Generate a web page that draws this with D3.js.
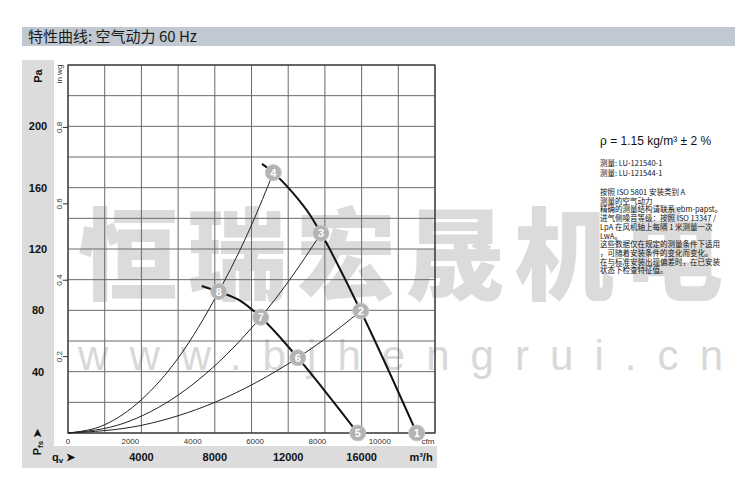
<!DOCTYPE html>
<html><head><meta charset="utf-8">
<script src="https://cdn.jsdelivr.net/npm/d3@7/dist/d3.min.js"></script>
<style>
html,body{margin:0;padding:0;background:#fff;}
svg{display:block;font-family:"Liberation Sans",Arial,"Noto Sans CJK SC",sans-serif;}
</style></head>
<body>
<svg id="c" width="750" height="492"></svg>
<script>
// ---------- data ----------
const title = "特性曲线: 空气动力 60 Hz";
const paTicks = [40, 80, 120, 160, 200];
const inwgTicks = [0.2, 0.4, 0.6, 0.8];
const cfmTicks = [0, 2000, 4000, 6000, 8000, 10000];
const m3hTicks = [4000, 8000, 12000, 16000];

// fan curve, high speed (m³/h, Pa)
const highFlow = [10573, 11189, 12279, 13189, 13789, 15952, 19004];
const highPa   = [175.5, 169.8, 156.3, 142.2, 130.2, 79.6, 0];
// fan curve, low speed
const lowFlow = [7286, 8213, 9374, 10502, 12519, 14099, 15789];
const lowPa   = [95.9, 92.2, 86.3, 75.5, 49.1, 25.9, 0];
// system curves
const sysAFlow = [0, 2000, 4000, 6000, 8213, 10000, 11189];
const sysAPa   = [0, 5.4, 21.7, 48.8, 92.2, 135.6, 169.8];
const sysBFlow = [0, 3000, 6000, 9000, 10502, 12000, 13789];
const sysBPa   = [0, 6.2, 24.7, 55.5, 75.5, 98.6, 130.2];
const sysCFlow = [0, 4000, 8000, 12519, 14000, 15952];
const sysCPa   = [0, 5.0, 20.0, 49.1, 61.3, 79.6];
// operating points
const markerIds  = ["1", "2", "3", "4", "5", "6", "7", "8"];
const markerFlow = [19004, 15952, 13789, 11189, 15789, 12519, 10502, 8213];
const markerPa   = [0, 79.6, 130.2, 169.8, 0, 49.1, 75.5, 92.2];

const noteRho = "ρ = 1.15 kg/m³ ± 2 %";
const noteMeas = ["测量: LU-121540-1", "测量: LU-121544-1"];
const noteLines = [
  "按照 ISO 5801 安装类别 A",
  "测量的空气动力",
  "精确的测量结构请联系 ebm-papst。",
  "进气侧噪音等级：按照 ISO 13347 /",
  "LpA 在风机轴上每隔 1 米测量一次",
  "LwA。",
  "这些数据仅在规定的测量条件下适用",
  "，可随着安装条件的变化而变化。",
  "在与标准安装出现偏差时，在已安装",
  "状态下检查特征值。"
];
const watermark = "恒瑞宏晟机电";
const watermarkUrl = "www.bjhengrui.cn";

// ---------- drawing ----------
const svg = d3.select("#c");
const L = 68, R = 435, T = 65, B = 433;
const x = d3.scaleLinear().domain([0, 20000]).range([L, R]);
const y = d3.scaleLinear().domain([0, 240]).range([B, T]);
const xc = d3.scaleLinear().domain([0, 20000 / 1.699]).range([L, R]);
const yw = d3.scaleLinear().domain([0, 240 / 249.09]).range([B, T]);

// header band
svg.append("rect").attr("x", 22).attr("y", 27).attr("width", 713).attr("height", 19).attr("fill", "#c0c9d2");
svg.append("text").attr("x", 28).attr("y", 42).attr("font-size", 15)
  .attr("font-family", "'Noto Sans CJK SC',sans-serif").attr("fill", "#1a1a1a").text(title);

// side/bottom bands
svg.append("rect").attr("x", 22).attr("y", 60).attr("width", 32).attr("height", 408).attr("fill", "#dcdcdc");
svg.append("rect").attr("x", 22).attr("y", 446).attr("width", 415).attr("height", 22).attr("fill", "#dcdcdc");

// watermark (behind chart)
svg.append("text").attr("x", 78).attr("y", 292).attr("font-size", 100).attr("font-weight", "900")
  .attr("font-family", "'Noto Sans CJK SC',sans-serif").attr("fill", "#808080").attr("opacity", 0.28)
  .attr("textLength", 645).attr("lengthAdjust", "spacing").text(watermark);
svg.append("text").attr("x", 78).attr("y", 370).attr("font-size", 42)
  .attr("fill", "#808080").attr("opacity", 0.3)
  .attr("textLength", 645).attr("lengthAdjust", "spacing").text(watermarkUrl);

// grid
const g = svg.append("g");
g.selectAll(".vg").data(d3.range(0, 20001, 2000)).join("line")
  .attr("x1", d => x(d)).attr("x2", d => x(d)).attr("y1", T).attr("y2", B)
  .attr("stroke", "#6a6a6a").attr("stroke-width", 1);
g.selectAll(".hg").data(d3.range(0, 241, 20)).join("line")
  .attr("x1", L).attr("x2", R).attr("y1", d => y(d)).attr("y2", d => y(d))
  .attr("stroke", "#6a6a6a").attr("stroke-width", 1);
g.append("rect").attr("x", L).attr("y", T).attr("width", R - L).attr("height", B - T)
  .attr("fill", "none").attr("stroke", "#333").attr("stroke-width", 1.2);

// Pa labels
svg.selectAll(".pa").data(paTicks).join("text")
  .attr("x", 38).attr("y", d => y(d) + 4).attr("text-anchor", "middle")
  .attr("font-size", 11).attr("font-weight", "bold").attr("fill", "#111").text(d => d);
svg.append("text").attr("transform", "translate(42,76) rotate(-90)").attr("text-anchor", "middle")
  .attr("font-size", 11).attr("font-weight", "bold").attr("fill", "#111").text("Pa");

// in wg axis
svg.selectAll(".wt").data(inwgTicks).join("line")
  .attr("x1", 63).attr("x2", L).attr("y1", d => yw(d)).attr("y2", d => yw(d))
  .attr("stroke", "#333");
svg.selectAll(".wl").data(inwgTicks).join("text")
  .attr("transform", d => `translate(62,${yw(d)}) rotate(-90)`).attr("text-anchor", "middle")
  .attr("font-size", 8).attr("fill", "#333").text(d => d.toFixed(1));
svg.append("text").attr("transform", "translate(62,74) rotate(-90)").attr("text-anchor", "middle")
  .attr("font-size", 8).attr("fill", "#333").text("in wg");

// Pfs label
const pfs = svg.append("text").attr("transform", "translate(41,442) rotate(-90)").attr("text-anchor", "middle")
  .attr("font-size", 11).attr("font-weight", "bold").attr("fill", "#111");
pfs.append("tspan").text("P");
pfs.append("tspan").attr("font-size", 8).attr("dy", 2).text("fs");
pfs.append("tspan").attr("dy", -2).text(" ➤");

// cfm axis
svg.selectAll(".ct").data(cfmTicks).join("text")
  .attr("x", d => xc(d)).attr("y", 444).attr("text-anchor", "middle")
  .attr("font-size", 8).attr("fill", "#333").text(d => d);
svg.append("text").attr("x", 428).attr("y", 444).attr("text-anchor", "middle")
  .attr("font-size", 8).attr("fill", "#333").text("cfm");

// m3/h axis
svg.selectAll(".mt").data(m3hTicks).join("text")
  .attr("x", d => x(d)).attr("y", 461).attr("text-anchor", "middle")
  .attr("font-size", 11).attr("font-weight", "bold").attr("fill", "#111").text(d => d);
svg.append("text").attr("x", 421).attr("y", 461).attr("text-anchor", "middle")
  .attr("font-size", 11).attr("font-weight", "bold").attr("fill", "#111").text("m³/h");
const qv = svg.append("text").attr("x", 52).attr("y", 461)
  .attr("font-size", 11).attr("font-weight", "bold").attr("fill", "#111");
qv.append("tspan").text("q");
qv.append("tspan").attr("font-size", 8).attr("dy", 2).text("v");
qv.append("tspan").attr("dy", -2).text(" ➤");

// curves
const line = d3.line().x(d => x(d[0])).y(d => y(d[1])).curve(d3.curveMonotoneX);
const zip = (a, b) => a.map((v, i) => [v, b[i]]);
[[sysAFlow, sysAPa], [sysBFlow, sysBPa], [sysCFlow, sysCPa]].forEach(([f, p]) => {
  svg.append("path").attr("d", line(zip(f, p))).attr("fill", "none")
    .attr("stroke", "#222").attr("stroke-width", 1);
});
[[highFlow, highPa], [lowFlow, lowPa]].forEach(([f, p]) => {
  svg.append("path").attr("d", line(zip(f, p))).attr("fill", "none")
    .attr("stroke", "#111").attr("stroke-width", 2);
});

// markers
const mk = svg.selectAll(".mk").data(markerIds.map((id, i) => ({id, q: markerFlow[i], p: markerPa[i]})))
  .join("g").attr("transform", d => `translate(${x(d.q)},${y(d.p)})`);
mk.append("circle").attr("r", 8).attr("fill", "#b3b3b3").attr("stroke", "#c8c8c8").attr("stroke-width", 1);
mk.append("text").attr("y", 4).attr("text-anchor", "middle").attr("font-size", 11)
  .attr("font-weight", "bold").attr("fill", "#fff").text(d => d.id);

// right notes
svg.append("text").attr("x", 600).attr("y", 145).attr("font-size", 12).attr("fill", "#111").text(noteRho);
svg.selectAll(".nm").data(noteMeas).join("text")
  .attr("x", 600).attr("y", (d, i) => 166 + i * 10).attr("font-size", 7.5)
  .attr("font-family", "'Noto Sans CJK SC',sans-serif").attr("fill", "#111").text(d => d);
svg.selectAll(".nl").data(noteLines).join("text")
  .attr("x", 600).attr("y", (d, i) => 195 + i * 8.7).attr("font-size", 7.5)
  .attr("font-family", "'Noto Sans CJK SC',sans-serif").attr("fill", "#111").text(d => d);
</script>
</body></html>
